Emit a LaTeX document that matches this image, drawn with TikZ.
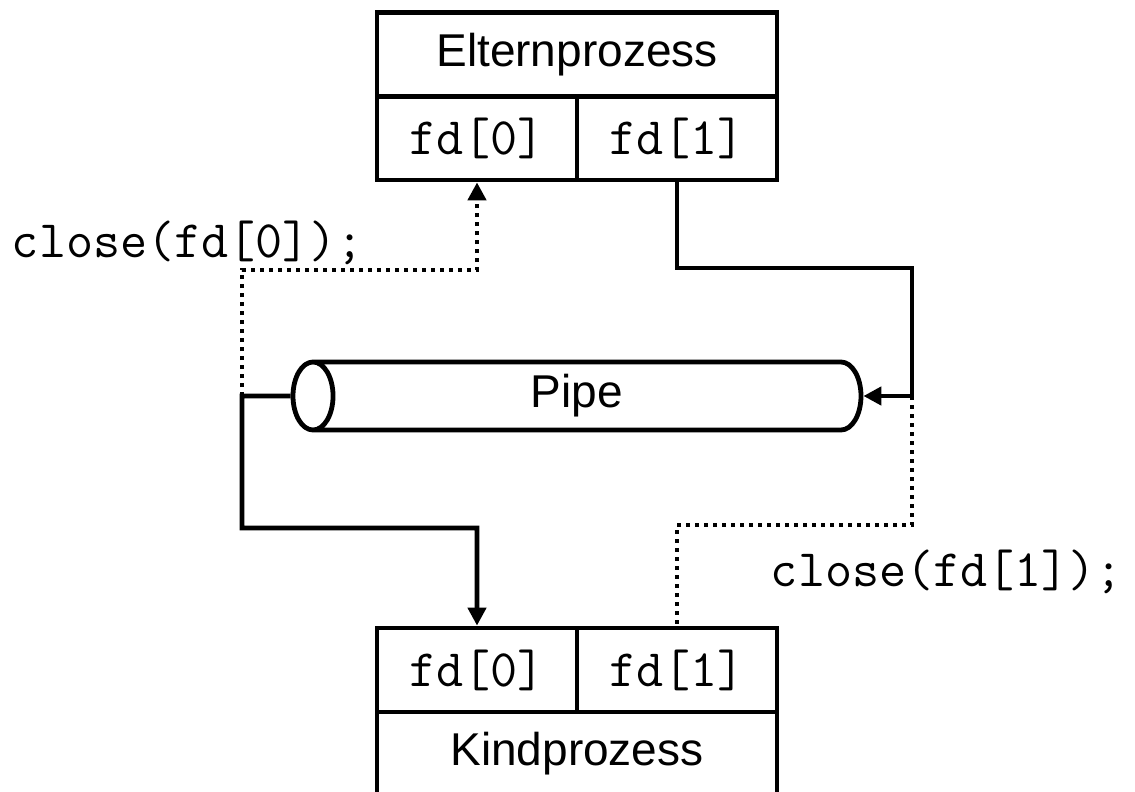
\documentclass[tikz,border=0pt]{standalone}
\usepackage{fontspec}
\setmainfont{Liberation Sans}
\usetikzlibrary{shapes.geometric, positioning, arrows.meta}

\begin{document}
\begin{tikzpicture}[
    x=0.5pt, y=-0.5pt, line width=2.4pt,
    procbox/.style={draw, rectangle, minimum width=200pt, minimum height=42pt, align=center, font=\fontsize{23}{28}\selectfont},
    fdbox/.style={draw, rectangle, minimum width=100pt, minimum height=42pt, align=center, font=\fontsize{26.3}{30}\selectfont\ttfamily},
    pipebox/.style={draw, cylinder, shape border rotate=180, aspect=0.77, inner ysep=13pt, minimum width=34pt, minimum height=284pt},
    closelabel/.style={font=\fontsize{26.3}{30}\selectfont\ttfamily},
    arr/.style={-{Triangle[length=9pt,width=9pt]}},
    dot/.style={dash pattern=on 2pt off 2.5pt}
]
    \useasboundingbox (0,0) rectangle (1135,792);

    % Parent process
    \node[procbox] (eltern) at (577,54.5) {Elternprozess};
    \node[fdbox] (p0) at (477,138) {fd[0]};
    \node[fdbox] (p1) at (677,138) {fd[1]};

    % Child process
    \node[fdbox] (k0) at (477,670) {fd[0]};
    \node[fdbox] (k1) at (677,670) {fd[1]};
    \node[procbox] (kind) at (577,754) {Kindprozess};

    % Pipe
    \node[pipebox, anchor=shape center] (pipe) at (577,396) {};
    \node[font=\fontsize{23}{28}\selectfont] (pipetext) at (pipe.shape center) {Pipe};

    % bends
    \coordinate (ljoin) at (242,396);
    \coordinate (lhigh) at (242,270);
    \coordinate (llow) at (242,528);
    \coordinate (rbend) at (912,268);
    \coordinate (rjoin) at (912,396);
    \coordinate (rlow) at (912,525);

    % parent writes, child reads
    \draw[arr] (p1.south) |- (rbend) |- (pipe.east);
    \draw[arr] (pipe.west) -- (ljoin) -- (llow) -| (k0.north);

    % closed ends
    \draw[dot, arr] (ljoin) -- (lhigh) -| (p0.south);
    \draw[dot] (rjoin) -- (rlow) -| (k1.north);

    \node[closelabel] (cl0) at (188,243) {close(fd[0]);};
    \node[closelabel] (cl1) at (947,572) {close(fd[1]);};

\end{tikzpicture}
\end{document}
